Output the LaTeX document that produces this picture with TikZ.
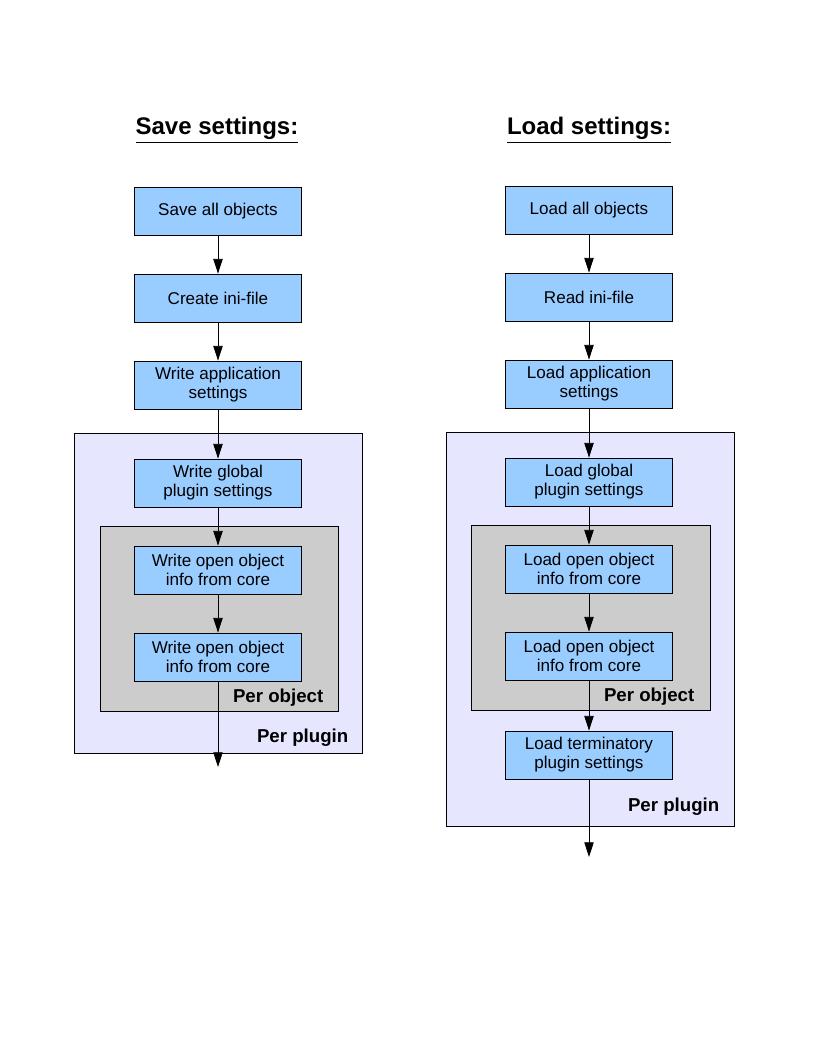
\documentclass[tikz,border=0pt]{standalone}
\usepackage{fontspec}
\setmainfont{Liberation Sans}
\usetikzlibrary{arrows.meta, positioning, calc}
\definecolor{boxblue}{RGB}{153,204,255}
\definecolor{plugbg}{RGB}{230,230,255}
\definecolor{objbg}{RGB}{204,204,204}

\begin{document}
\begin{tikzpicture}[x=0.75pt, y=-0.75pt,
  box/.style={rectangle, draw, line width=0.6pt, fill=boxblue, minimum width=125.25pt, minimum height=36pt, inner sep=0pt, align=center, font=\fontsize{12.8}{14.25}\selectfont},
  grp/.style={rectangle, draw, line width=0.6pt, inner sep=0pt},
  lbl/.style={anchor=east, font=\fontsize{14}{16}\selectfont\bfseries},
  ttl/.style={font=\fontsize{18}{21}\selectfont\bfseries},
  e/.style={line width=0.6pt, -{Triangle[length=11pt, width=7pt]}}
]
\useasboundingbox[fill=white] (0,0) rectangle (816,1056);

% save column
\node[ttl] (stitle) at (217,130) {\underline{Save settings:}};
\node[grp, fill=plugbg, minimum width=216pt, minimum height=240pt] (splug) at (218,593) {};
\node[grp, fill=objbg, minimum width=178.5pt, minimum height=138.75pt] (sobj) at (219,618.5) {};
\node[box] (s1) at (218,211) {Save all objects};
\node[box] (s2) at (218,298) {Create ini-file};
\node[box] (s3) at (218,385) {Write application\\settings};
\node[box] (s4) at (218,483) {Write global\\plugin settings};
\node[box] (s5) at (218,570) {Write open object\\info from core};
\node[box] (s6) at (218,657) {Write open object\\info from core};
\node[lbl] (sobjl) at (328,698) {Per object};
\node[lbl] (splugl) at (353,738) {Per plugin};
\coordinate (send) at (218,767);
\draw[e] (s1) -- (s2);
\draw[e] (s2) -- (s3);
\draw[e] (s3) -- (s4);
\draw[e] (s4) -- (s5);
\draw[e] (s5) -- (s6);
\draw[e] (s6) -- (send);

% load column
\node[ttl] (ltitle) at (589,130) {\underline{Load settings:}};
\node[grp, fill=plugbg, minimum width=216pt, minimum height=295.5pt] (lplug) at (590,629) {};
\node[grp, fill=objbg, minimum width=179.25pt, minimum height=138.75pt] (lobj) at (590.5,617.5) {};
\node[box] (l1) at (589,210) {Load all objects};
\node[box] (l2) at (589,297) {Read ini-file};
\node[box] (l3) at (589,384) {Load application\\settings};
\node[box] (l4) at (589,482) {Load global\\plugin settings};
\node[box] (l5) at (589,569) {Load open object\\info from core};
\node[box] (l6) at (589,656) {Load open object\\info from core};
\node[box] (l7) at (589,755) {Load terminatory\\plugin settings};
\node[lbl] (lobjl) at (699,697) {Per object};
\node[lbl] (lplugl) at (724,807) {Per plugin};
\coordinate (lend) at (589,857);
\draw[e] (l1) -- (l2);
\draw[e] (l2) -- (l3);
\draw[e] (l3) -- (l4);
\draw[e] (l4) -- (l5);
\draw[e] (l5) -- (l6);
\draw[e] (l6) -- (l7);
\draw[e] (l7) -- (lend);
\end{tikzpicture}
\end{document}
